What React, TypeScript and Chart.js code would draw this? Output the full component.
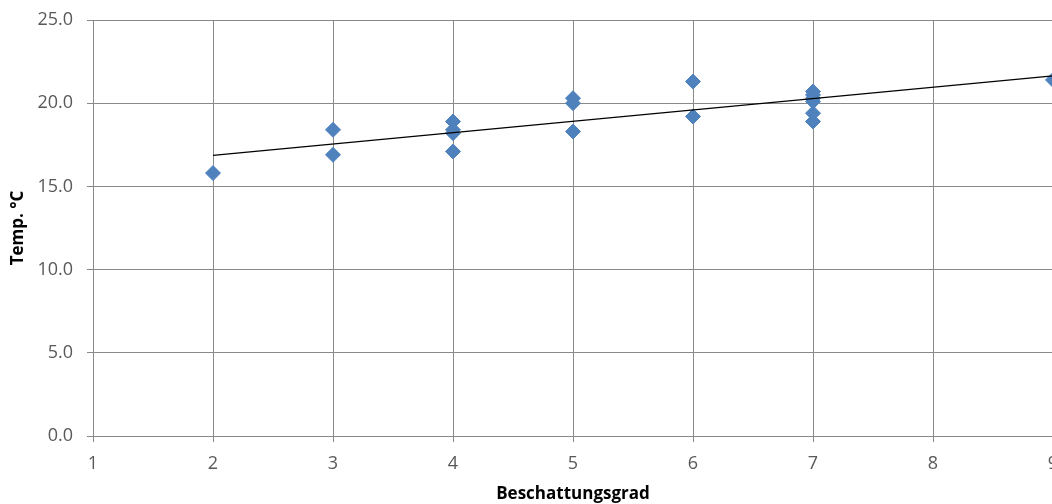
import React, { useEffect, useRef } from "react";
import { Chart, registerables } from "chart.js";

Chart.register(...registerables);

// ---- data ----
const shadeDegree = [2, 3, 3, 4, 4, 4, 4, 5, 5, 5, 6, 6, 7, 7, 7, 7, 7, 7, 9];
const temperature = [15.8, 18.4, 16.9, 18.9, 18.4, 18.2, 17.1, 20.3, 20.0, 18.3, 21.3, 19.2, 20.7, 20.5, 20.3, 20.1, 19.4, 18.9, 21.4];
const xRange = [1, 9];
const yRange = [0, 25];
const xStep = 1;
const yStep = 5;
const xTitle = "Beschattungsgrad";
const yTitle = "Temp. °C";

// linear trend line (least squares) from the data
function trendLine(xs: number[], ys: number[]) {
  const n = xs.length;
  const mx = xs.reduce((a, b) => a + b, 0) / n;
  const my = ys.reduce((a, b) => a + b, 0) / n;
  let sxy = 0;
  let sxx = 0;
  for (let i = 0; i < n; i++) {
    sxy += (xs[i] - mx) * (ys[i] - my);
    sxx += (xs[i] - mx) * (xs[i] - mx);
  }
  const slope = sxy / sxx;
  const intercept = my - slope * mx;
  const x0 = Math.min(...xs);
  const x1 = Math.max(...xs);
  return [
    { x: x0, y: intercept + slope * x0 },
    { x: x1, y: intercept + slope * x1 },
  ];
}

const GRID = "#898989";
const TICK_TEXT = "#595959";
const FONT = "'Open Sans', 'Liberation Sans', sans-serif";

export default function App() {
  const ref = useRef<HTMLCanvasElement | null>(null);

  useEffect(() => {
    if (!ref.current) return;
    const points = shadeDegree.map((x, i) => ({ x, y: temperature[i] }));
    const chart = new Chart(ref.current, {
      type: "scatter",
      data: {
        datasets: [
          {
            type: "line",
            data: trendLine(shadeDegree, temperature),
            borderColor: "#000000",
            borderWidth: 1.3,
            pointRadius: 0,
            fill: false,
          } as any,
          {
            data: points,
            pointStyle: "rectRot",
            pointRadius: 7.5,
            pointHoverRadius: 7.5,
            backgroundColor: "#4F81BD",
            borderColor: "#4F81BD",
            borderWidth: 1,
          },
        ],
      },
      options: {
        animation: false,
        responsive: false,
        devicePixelRatio: 1,
        layout: { padding: { left: 0, top: 20, right: 27, bottom: 0 } },
        plugins: { legend: { display: false }, tooltip: { enabled: false } },
        scales: {
          x: {
            type: "linear",
            min: xRange[0],
            max: xRange[1],
            ticks: {
              stepSize: xStep,
              color: TICK_TEXT,
              font: { family: FONT, size: 18 },
              padding: 11,
              maxRotation: 0,
            },
            grid: { color: GRID, tickLength: 6, tickColor: GRID, lineWidth: 1 },
            border: { color: GRID, width: 1 },
            title: {
              display: true,
              text: xTitle,
              color: "#000000",
              font: { family: FONT, size: 17, weight: "bold" },
              padding: { top: 0, bottom: 0 },
            },
            afterFit: (s: any) => {
              s.height = 68;
              s.paddingLeft = 0;
              s.paddingRight = 0;
            },
          },
          y: {
            type: "linear",
            min: yRange[0],
            max: yRange[1],
            ticks: {
              stepSize: yStep,
              color: TICK_TEXT,
              font: { family: FONT, size: 18 },
              padding: 14,
              callback: (v: any) => Number(v).toFixed(1),
            },
            grid: { color: GRID, tickLength: 6, tickColor: GRID, lineWidth: 1 },
            border: { color: GRID, width: 1 },
            title: {
              display: true,
              text: yTitle,
              color: "#000000",
              font: { family: FONT, size: 17, weight: "bold" },
              padding: { top: 8, bottom: 0 },
            },
            afterFit: (s: any) => {
              s.width = 93;
              s.paddingTop = 0;
              s.paddingBottom = 0;
            },
          },
        },
      },
    });
    return () => chart.destroy();
  }, []);

  return (
    <div
      style={{
        position: "absolute",
        left: 0,
        top: 0,
        width: 1052,
        height: 504,
        overflow: "hidden",
        background: "#ffffff",
      }}
    >
      <canvas ref={ref} width={1080} height={504} style={{ display: "block", width: 1080, height: 504 }} />
    </div>
  );
}
